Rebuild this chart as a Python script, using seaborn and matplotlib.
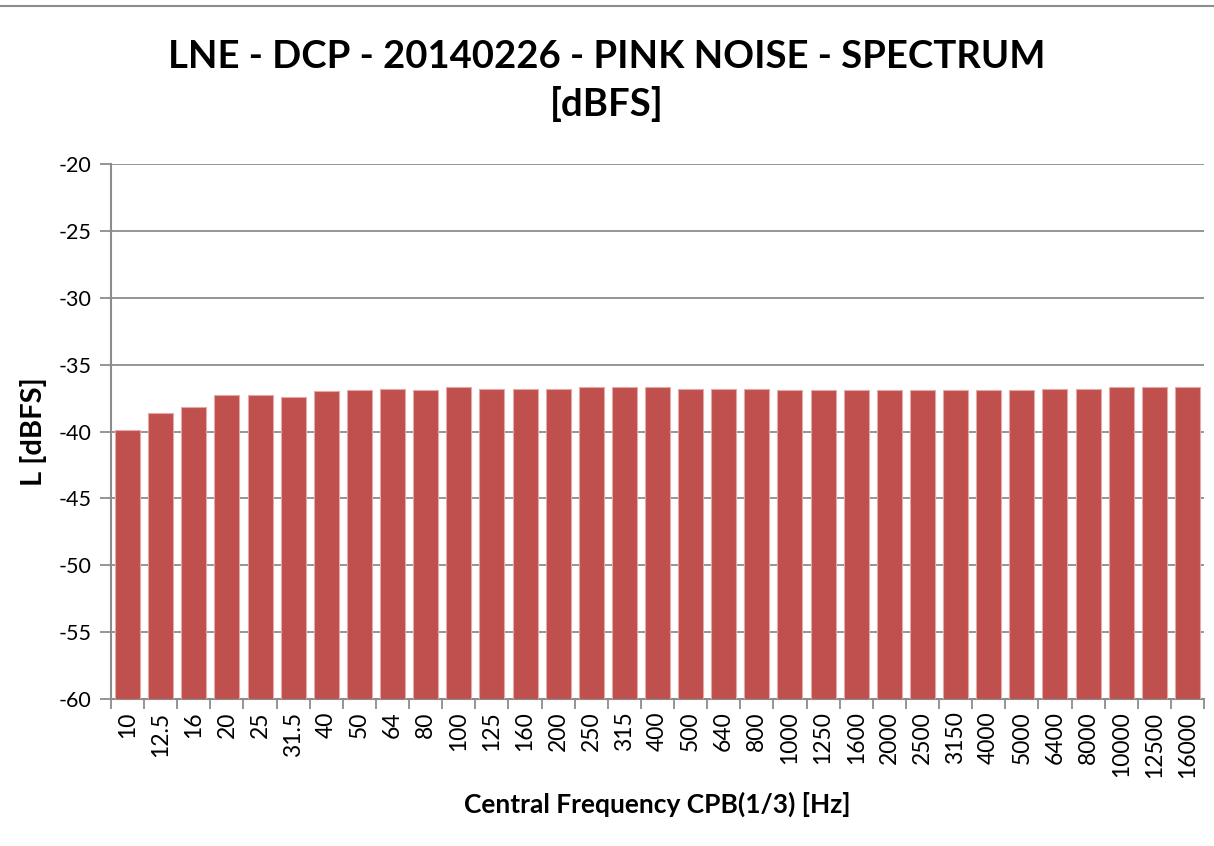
import matplotlib
matplotlib.use("Agg")
import matplotlib.pyplot as plt
import seaborn as sns
import pandas as pd
import numpy as np
from matplotlib.ticker import FixedLocator

frequencies = ["10", "12.5", "16", "20", "25", "31.5", "40", "50", "64", "80", "100",
               "125", "160", "200", "250", "315", "400", "500", "640", "800", "1000",
               "1250", "1600", "2000", "2500", "3150", "4000", "5000", "6400", "8000",
               "10000", "12500", "16000"]
levels = [-39.9, -38.6, -38.2, -37.3, -37.3, -37.4, -37.0, -36.9, -36.8, -36.9, -36.7,
          -36.8, -36.8, -36.8, -36.7, -36.7, -36.7, -36.8, -36.8, -36.8, -36.9,
          -36.9, -36.9, -36.9, -36.9, -36.9, -36.9, -36.9, -36.8, -36.8,
          -36.7, -36.7, -36.7]
y_ticks = [-60, -55, -50, -45, -40, -35, -30, -25, -20]

title = "LNE - DCP - 20140226 - PINK NOISE - SPECTRUM\n[dBFS]"
x_label = "Central Frequency CPB(1/3) [Hz]"
y_label = "L [dBFS]"

sns.set_theme(style="white")
plt.rcParams['font.family'] = ['Lato', 'DejaVu Sans']

df = pd.DataFrame({"freq": frequencies, "level": levels})
base = -60
df["height"] = df["level"] - base

fig = plt.figure(figsize=(12.14, 8.46), dpi=100)
ax = fig.add_axes([111/1214, 1 - 699/846, (1204 - 111)/1214, (699 - 164)/846])

sns.barplot(data=df, x="freq", y="height", order=frequencies, color="#C0504D",
            saturation=1, width=0.755, bottom=base, ax=ax,
            edgecolor="#E2A9A7", linewidth=0.8, zorder=3)

ax.set_ylim(-60, -20)
ax.set_xlim(-0.5, len(frequencies) - 0.5)
ax.set_yticks(y_ticks)
ax.set_yticklabels([str(v) for v in y_ticks], fontsize=15.5, color="black")
ax.yaxis.grid(True, color="#8C8C8C", linewidth=1.3, zorder=0)
ax.xaxis.grid(False)
ax.tick_params(axis="y", which="major", length=8, width=1.3, color="#8C8C8C",
               direction="out", left=True, pad=6)
ax.set_xticks(range(len(frequencies)))
ax.set_xticklabels(frequencies, rotation=90, fontsize=16.5, va="top", ha="center",
                   color="black")
ax.tick_params(axis="x", which="major", length=0, pad=9)
ax.xaxis.set_minor_locator(FixedLocator(np.arange(-0.5, len(frequencies), 1.0)))
ax.tick_params(axis="x", which="minor", length=7, width=1.3, color="#8C8C8C",
               direction="out", bottom=True)

for s in ["top", "right"]:
    ax.spines[s].set_visible(False)
for s in ["left", "bottom"]:
    ax.spines[s].set_color("#8C8C8C")
    ax.spines[s].set_linewidth(1.5)

ax.set_xlabel(x_label, fontsize=19, fontweight="bold", labelpad=10, color="black")
ax.set_ylabel(y_label, fontsize=21, fontweight="bold", labelpad=8, color="black")
fig.text(0.5, 1 - 81/846, title, ha="center", va="center", fontsize=27.5,
         fontweight="bold", linespacing=1.38, color="black")

fig.add_artist(plt.Line2D([0, 1], [1 - 6/846, 1 - 6/846], color="#8C8C8C",
                          linewidth=1.5, transform=fig.transFigure))

fig.savefig("out.png", dpi=100, facecolor="white")
